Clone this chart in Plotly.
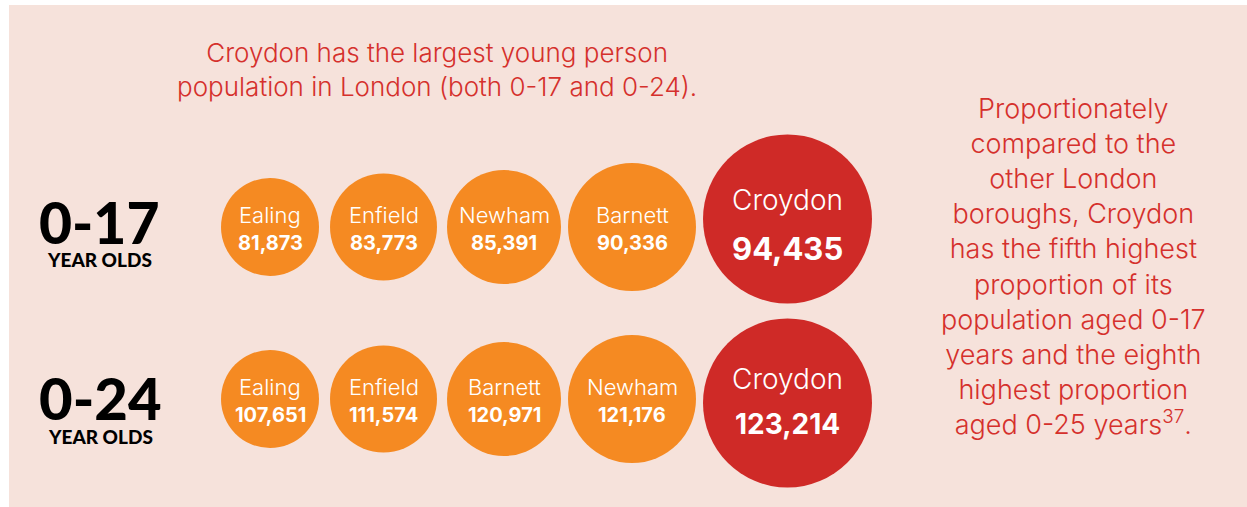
import plotly.graph_objects as go

# ---------------- data ----------------
row_labels = ["0-17", "0-24"]
row_sublabel = "YEAR OLDS"
boroughs_017 = ["Ealing", "Enfield", "Newham", "Barnett", "Croydon"]
values_017 = [81873, 83773, 85391, 90336, 94435]
boroughs_024 = ["Ealing", "Enfield", "Barnett", "Newham", "Croydon"]
values_024 = [107651, 111574, 120971, 121176, 123214]
headline = "Croydon has the largest young person<br>population in London (both 0-17 and 0-24)."
side_note = ("Proportionately<br>compared to the<br>other London<br>boroughs, Croydon<br>"
             "has the fifth highest<br>proportion of its<br>population aged 0-17<br>"
             "years and the eighth<br>highest proportion<br>aged 0-25 years<sup>37</sup>.")

# ---------------- style ----------------
W, H = 1247, 507
BG = "#F6E2DB"
ORANGE = "#F58A22"
RED = "#CF2A27"
TXT_RED = "#D5302C"
FONT = "Inter"
BIGFONT = "Lato"
DIAMS = [98, 107, 114, 128, 169]      # circle diameter by rank (px)
GAPS = [11, 10, 7, 7]
X0 = 221
ROW_Y = [227, 399]
BIG_DY = [-8, 4]
LABEL_DY = [-5, -2]
SUB_DY = [32, 37]
LABEL_SIZE = [57, 58]

def centers():
    xs, x = [], X0
    for i, d in enumerate(DIAMS):
        xs.append(x + d / 2)
        x += d + (GAPS[i] if i < len(GAPS) else 0)
    return xs

XC = centers()

fig = go.Figure()
fig.add_shape(type="rect", xref="x", yref="y", x0=9, x1=W, y0=5, y1=H,
              fillcolor=BG, line_width=0, layer="below")

annotations = []
rows = [(boroughs_017, values_017), (boroughs_024, values_024)]
for r, (names, vals) in enumerate(rows):
    ys = [ROW_Y[r]] * (len(names) - 1) + [ROW_Y[r] + BIG_DY[r]]
    colors = [ORANGE] * (len(names) - 1) + [RED]
    fig.add_trace(go.Scatter(
        x=XC, y=ys, mode="markers",
        marker=dict(size=DIAMS, color=colors, line_width=0, opacity=1),
        hoverinfo="skip", showlegend=False))
    for i, (n, v) in enumerate(zip(names, vals)):
        big = i == len(names) - 1
        if big:
            name_dy, val_dy = (-19, 29) if r == 0 else (-24, 21)
            nsize, vsize = 28, (31 if r == 0 else 28)
        else:
            name_dy, val_dy = -12, 16
            nsize, vsize = 22, 20
        annotations.append(dict(x=XC[i], y=ys[i] + name_dy, text=n, showarrow=False,
                                font=dict(family=FONT, size=nsize, color="white", weight=300),
                                xanchor="center", yanchor="middle"))
        annotations.append(dict(x=XC[i], y=ys[i] + val_dy, text=f"{v:,}", showarrow=False,
                                font=dict(family=FONT, size=vsize, color="white", weight=700),
                                xanchor="center", yanchor="middle"))
    # row label
    lx = 99 if r == 0 else 100
    annotations.append(dict(x=lx, y=ROW_Y[r] + LABEL_DY[r], text=row_labels[r], showarrow=False,
                            font=dict(family=BIGFONT, size=LABEL_SIZE[r], color="black", weight=900),
                            xanchor="center", yanchor="middle"))
    annotations.append(dict(x=lx, y=ROW_Y[r] + SUB_DY[r], text=row_sublabel, showarrow=False,
                            font=dict(family=BIGFONT, size=19, color="black", weight=900),
                            xanchor="center", yanchor="middle"))

annotations.append(dict(x=437, y=69, text=headline, showarrow=False,
                        font=dict(family=FONT, size=26, color=TXT_RED, weight=300),
                        xanchor="center", yanchor="middle", align="center"))
annotations.append(dict(x=1073, y=266, text=side_note, showarrow=False,
                        font=dict(family=FONT, size=27, color=TXT_RED, weight=300),
                        xanchor="center", yanchor="middle", align="center"))

fig.update_layout(
    width=W, height=H, margin=dict(l=0, r=0, t=0, b=0),
    paper_bgcolor="white", plot_bgcolor="white",
    xaxis=dict(range=[0, W], visible=False, fixedrange=True),
    yaxis=dict(range=[H, 0], visible=False, fixedrange=True),
    annotations=annotations,
)
fig.write_html("out.html", config={"displayModeBar": False},
               post_script="document.body.style.margin='0';document.body.style.overflow='hidden';")
